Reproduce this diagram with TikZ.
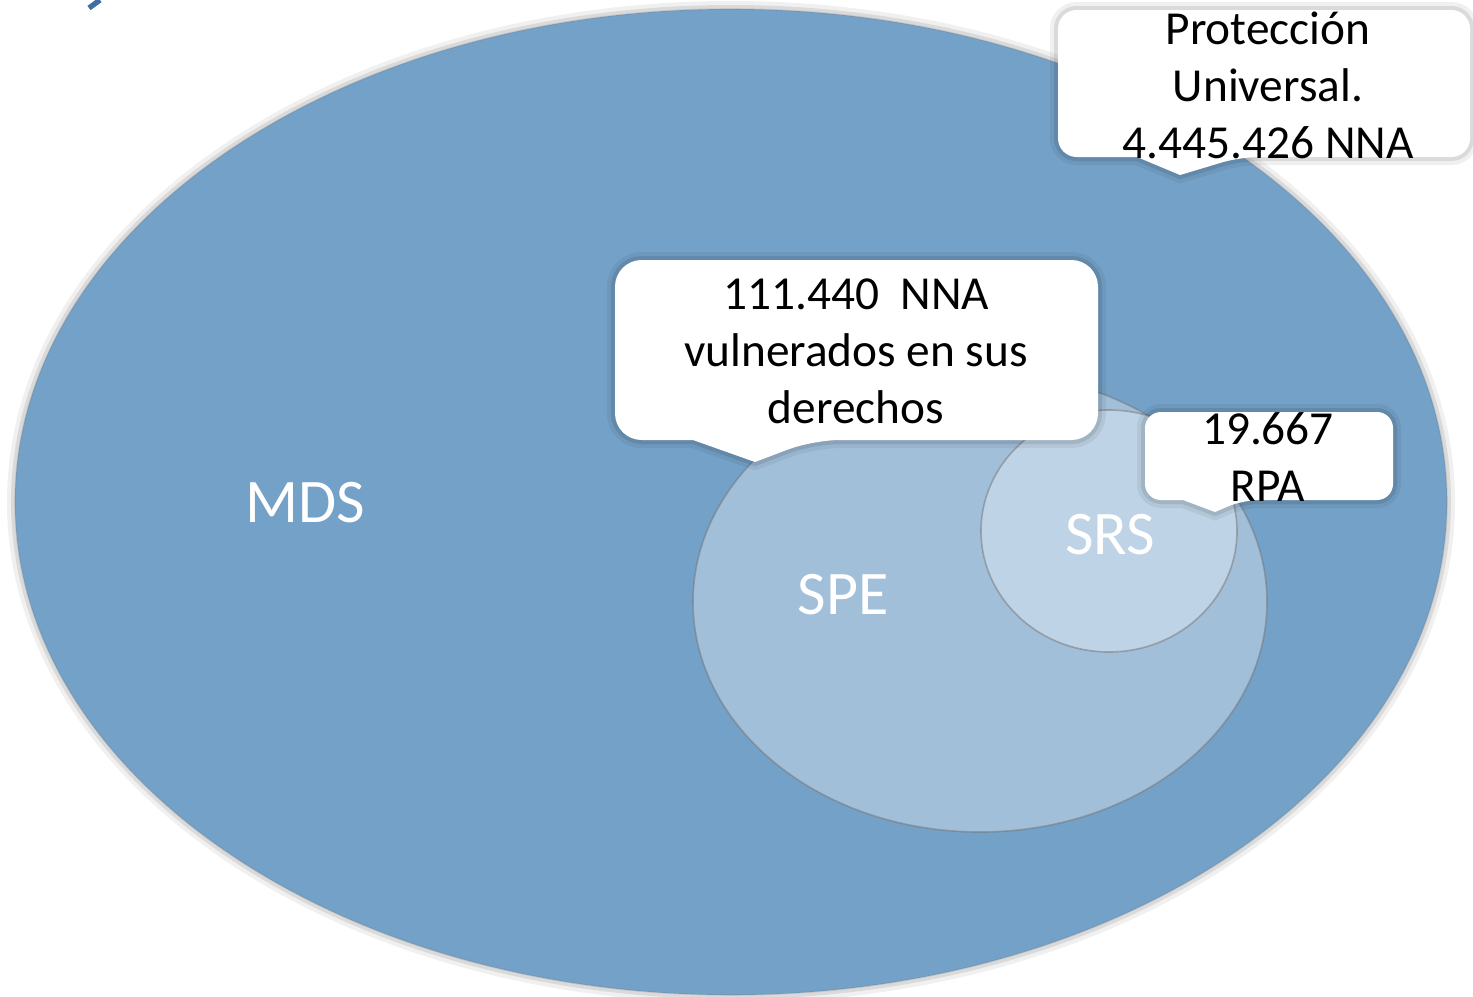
\documentclass[tikz,border=0pt]{standalone}
\usepackage{fontspec}
\setmainfont{Carlito}
\usepackage{tikz}

\definecolor{mdsblue}{RGB}{116,161,199}
\definecolor{speblue}{RGB}{162,191,217}
\definecolor{srsblue}{RGB}{190,211,229}
\definecolor{titleblue}{RGB}{63,110,160}

\tikzset{
    glow/.style={preaction={draw=black, draw opacity=0.06, line width=12},
                 preaction={draw=black, draw opacity=0.09, line width=6}},
    ring/.style={draw=black!55, draw opacity=0.5, line width=1.2},
    callout/.style={fill=white, glow},
    calltext/.style={inner sep=0, align=center, font=\fontsize{35.5}{42.75}\selectfont},
    setlabel/.style={inner sep=0, text=white, font=\fontsize{46.5}{50}\selectfont}
}

\begin{document}
\begin{tikzpicture}[x=0.75pt,y=0.75pt,yscale=-1,xscale=1]
        \useasboundingbox (0,0) rectangle (1473,996);

        %Straight Lines (cut title glyph)
        \draw [color=titleblue, line width=4] (89,8) -- (100,0) ;

        %Shape: Ellipse [MDS]
        \draw [fill=mdsblue, glow, ring, draw opacity=0.2] (731,502) ellipse [x radius=716, y radius=493] ;
        %Shape: Ellipse [SPE]
        \draw [fill=speblue, ring] (980,602) ellipse [x radius=287, y radius=230] ;
        %Shape: Ellipse [SRS]
        \draw [fill=srsblue, ring] (1109,531) ellipse [x radius=128, y radius=121] ;

        % Text Node
        \node (mds) [setlabel] at (305,503) {MDS};
        % Text Node
        \node (spe) [setlabel] at (843,595) {SPE};
        % Text Node
        \node (srs) [setlabel] at (1110,535) {SRS};

        %Shape: Callout [universal]
        \path [callout] (1137,157) [rounded corners=14] -| (1058,10) -| (1470,157) -- (1240,157) [sharp corners] -- (1180,175) -- cycle ;
        % Text Node
        \node (universal) [calltext] at (1268,85) {Protección\\Universal.\\4.445.426 NNA};

        %Shape: Callout [vulnerados]
        \path [callout] (693,440) [rounded corners=20] -| (615,260) -| (1098,440) -- (813,440) [sharp corners] -- (755,462) -- cycle ;
        % Text Node
        \node (vulnerados) [calltext] at (856,351) {111.440\ \ NNA\\vulnerados en sus\\derechos};

        %Shape: Callout [rpa]
        \path [callout] (1183,500) [rounded corners=12] -| (1145,412) -| (1393,500) -- (1243,500) [sharp corners] -- (1215,512) -- cycle ;
        % Text Node
        \node (rpa) [calltext] at (1268,457) {19.667\\RPA};

\end{tikzpicture}
\end{document}
